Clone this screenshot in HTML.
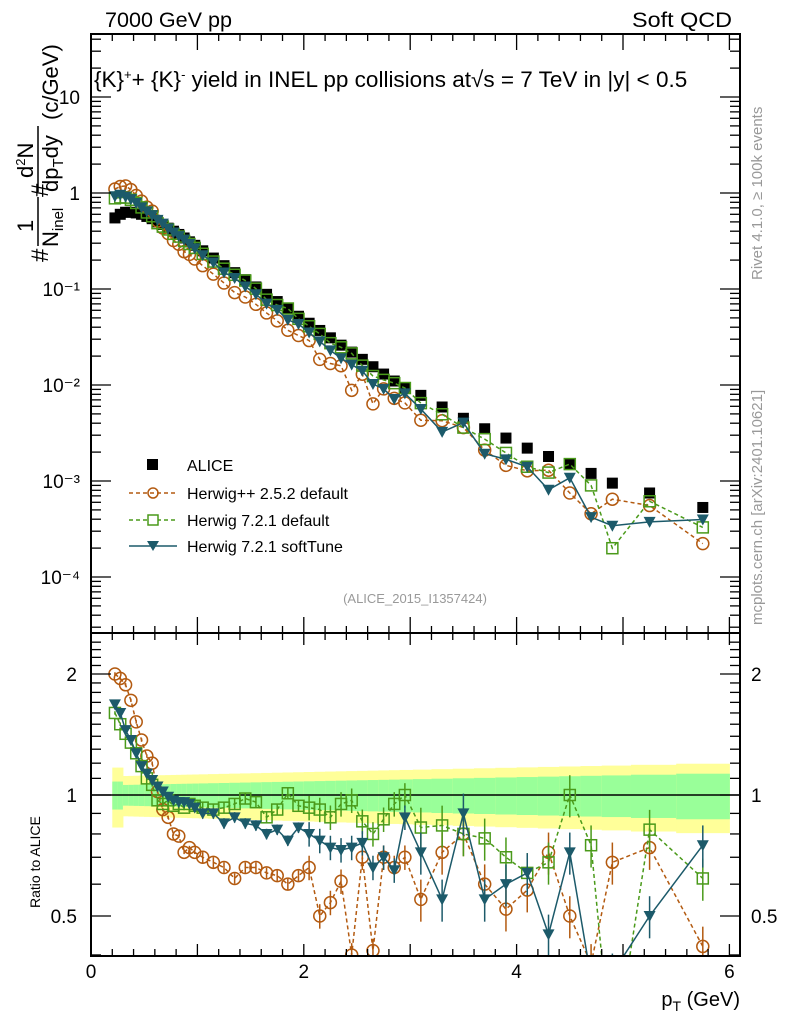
<!DOCTYPE html>
<html><head><meta charset="utf-8"><style>
html,body{margin:0;padding:0;background:#fff;width:786px;height:1024px;overflow:hidden;}
svg{display:block;font-family:"Liberation Sans","DejaVu Sans",sans-serif;}
</style></head><body>
<svg id="c" width="786" height="1024" viewBox="0 0 786 1024" xmlns="http://www.w3.org/2000/svg">
<defs><clipPath id="cm"><rect x="91" y="34" width="649" height="599"/></clipPath>
<clipPath id="cr"><rect x="91" y="633" width="649" height="323"/></clipPath></defs>
<g id="bands" clip-path="url(#cr)"></g>
<g id="marks"></g>
<g id="axes"></g>
<text x="105" y="27" font-size="21" textLength="127" lengthAdjust="spacingAndGlyphs">7000 GeV pp</text>
<text x="632" y="27" font-size="21" textLength="100" lengthAdjust="spacingAndGlyphs">Soft QCD</text>
<text x="94" y="87" font-size="22.5">{K}<tspan dy="-8" font-size="13">+</tspan><tspan dy="8">+ {K}</tspan><tspan dy="-8" font-size="13">-</tspan><tspan dy="8"> yield in INEL pp collisions at√s =  7 TeV in |y| &lt; 0.5</tspan></text>
<text x="415" y="603" font-size="13" fill="#999" text-anchor="middle">(ALICE_2015_I1357424)</text>
<text transform="translate(762,280) rotate(-90)" font-size="15" fill="#999">Rivet 4.1.0, ≥ 100k events</text>
<text transform="translate(762,625) rotate(-90)" font-size="15" fill="#999">mcplots.cern.ch [arXiv:2401.10621]</text>
<g font-size="24">
<text transform="translate(48,262) rotate(-90)">#</text>
<text transform="translate(33,232) rotate(-90)" font-size="22">1</text>
<line x1="38" y1="246" x2="38" y2="197" stroke="#000" stroke-width="1.5"/>
<text transform="translate(58,247) rotate(-90)" font-size="22">N<tspan font-size="15" dy="5">inel</tspan></text>
<text transform="translate(48,197) rotate(-90)">#</text>
<text transform="translate(33,178) rotate(-90)" font-size="22">d<tspan font-size="13" dy="-8">2</tspan><tspan dy="8">N</tspan></text>
<line x1="38" y1="192" x2="38" y2="126" stroke="#000" stroke-width="1.5"/>
<text transform="translate(58,192) rotate(-90)" font-size="22">dp<tspan font-size="15" dy="5">T</tspan><tspan dy="-5">dy</tspan></text>
<text transform="translate(58,120) rotate(-90)" font-size="22">(c/GeV)</text>
</g>
<text transform="translate(40,908) rotate(-90)" font-size="14">Ratio to ALICE</text>
<text x="740" y="1006" font-size="20" text-anchor="end">p<tspan font-size="14" dy="5">T</tspan><tspan dy="-5"> (GeV)</tspan></text>
<g font-size="16">
<rect x="147" y="459" width="11" height="11" fill="#000"/>
<text x="187" y="471">ALICE</text>
<line x1="129" y1="493" x2="177" y2="493" stroke="#b35a10" stroke-dasharray="4,3" stroke-width="1.5"/>
<circle cx="153" cy="493" r="5" fill="none" stroke="#b35a10" stroke-width="1.5"/>
<text x="187" y="499">Herwig++ 2.5.2 default</text>
<line x1="129" y1="520" x2="177" y2="520" stroke="#4a9a1a" stroke-dasharray="4,3" stroke-width="1.5"/>
<rect x="148" y="515" width="10" height="10" fill="#fff" stroke="#4a9a1a" stroke-width="1.5"/>
<text x="187" y="526">Herwig 7.2.1 default</text>
<line x1="129" y1="546" x2="177" y2="546" stroke="#1c5a6a" stroke-width="1.5"/>
<path d="M147,541 L159,541 L153,551 Z" fill="#1c5a6a"/>
<text x="187" y="552">Herwig 7.2.1 softTune</text>
</g>
</svg>
<script>
const pT=[0.225,0.275,0.325,0.375,0.425,0.475,0.525,0.575,0.625,0.675,0.725,0.775,0.825,0.875,0.925,0.975,
1.05,1.15,1.25,1.35,1.45,1.55,1.65,1.75,1.85,1.95,2.05,2.15,2.25,2.35,2.45,2.55,2.65,2.75,2.85,2.95,
3.1,3.3,3.5,3.7,3.9,4.1,4.3,4.5,4.7,4.9,5.25,5.75];
const alice=[0.55,0.60,0.63,0.63,0.62,0.60,0.57,0.54,0.50,0.47,0.43,0.40,0.37,0.34,0.31,0.285,
0.25,0.21,0.175,0.148,0.125,0.105,0.088,0.074,0.062,0.052,0.044,0.037,0.031,0.026,0.022,0.0185,0.0155,0.013,0.011,0.0093,
0.0078,0.0059,0.0045,0.0035,0.0028,0.0022,0.0018,0.0015,0.0012,0.00095,0.00075,0.00053];
const rHpp=[2.0,1.95,1.88,1.72,1.52,1.37,1.25,1.2,1.02,0.92,0.88,0.8,0.79,0.72,0.74,0.72,
0.7,0.68,0.66,0.62,0.66,0.66,0.64,0.63,0.6,0.63,0.66,0.5,0.54,0.61,0.4,0.7,0.41,0.7,0.66,0.7,
0.55,0.72,0.8,0.6,0.52,0.58,0.72,0.5,0.38,0.68,0.74,0.42];
const rH7=[1.6,1.5,1.42,1.35,1.27,1.18,1.1,1.06,0.97,0.95,0.97,0.94,0.95,0.93,0.95,0.94,
0.93,0.92,0.93,0.95,0.98,0.96,0.88,0.92,1.01,0.94,0.93,0.92,0.88,0.95,0.97,0.86,0.8,0.87,0.95,1.0,
0.83,0.84,0.8,0.78,0.7,0.64,0.68,1.0,0.75,0.21,0.82,0.62];
const rSoft=[1.68,1.6,1.45,1.37,1.27,1.18,1.13,1.09,1.05,1.02,0.99,0.97,0.96,0.96,0.95,0.93,
0.9,0.9,0.85,0.88,0.85,0.84,0.8,0.82,0.77,0.83,0.8,0.77,0.74,0.73,0.74,0.76,0.66,0.7,0.65,0.88,
0.72,0.55,0.9,0.55,0.6,0.64,0.45,0.72,0.35,0.36,0.5,0.75];
const yTicksMain=[10,1,0.1,0.01,0.001,0.0001];
const yTickLabels=["10","1","10⁻¹","10⁻²","10⁻³","10⁻⁴"];
const xTicks=[0,2,4,6];
const rTicks=[2,1,0.5];

const NS="http://www.w3.org/2000/svg";
const X=v=>91+106.4*v;
const YM=v=>193-96*Math.log10(v);
const YR=v=>795-121*Math.log2(v);
function mk(t,a,p){const e=document.createElementNS(NS,t);for(const k in a)e.setAttribute(k,a[k]);(p||document.getElementById('marks')).appendChild(e);return e;}

const bands=document.getElementById('bands');
for(let i=0;i<pT.length;i++){
 const lo=i==0?0.2:(pT[i-1]+pT[i])/2, hi=i==pT.length-1?6.0:(pT[i]+pT[i+1])/2;
 const t=pT[i]; const ys=t<0.32?0.17:(0.11+0.015*t); const gs=t<0.32?0.08:(0.055+0.013*t);
 const a=mk('rect',{x:X(lo),y:YR(1+ys),width:X(hi)-X(lo)+0.5,height:YR(1-ys)-YR(1+ys),fill:'#ffff99'},bands);
 
 
 const b=mk('rect',{x:X(lo),y:YR(1+gs),width:X(hi)-X(lo)+0.5,height:YR(1-gs)-YR(1+gs),fill:'#99ff99'},bands);
 
 
}
const one=mk('line',{x1:91,x2:740,y1:YR(1),y2:YR(1),stroke:'#000','stroke-width':1.5});



const series=[
 {r:rHpp,c:'#b35a10',dash:'4,3',m:'circle',name:'herwigpp'},
 {r:rH7,c:'#4a9a1a',dash:'4,3',m:'square',name:'herwig7-default'},
 {r:rSoft,c:'#1c5a6a',dash:'',m:'tri',name:'herwig7-softtune'}];
function marker(m,c,x,y,g){
 if(m=='circle')return mk('circle',{cx:x,cy:y,r:6,fill:'none',stroke:c,'stroke-width':1.5},g);
 if(m=='square')return mk('rect',{x:x-5.5,y:y-5.5,width:11,height:11,fill:'none',stroke:c,'stroke-width':1.5},g);
 return mk('path',{d:`M${x-6},${y-5}L${x+6},${y-5}L${x},${y+6}Z`,fill:c},g);
}
const gm=mk('g',{'clip-path':'url(#cm)'});


const gr=mk('g',{'clip-path':'url(#cr)'});


for(let i=0;i<pT.length;i++){
 const s=mk('rect',{x:X(pT[i])-5.5,y:YM(alice[i])-5.5,width:11,height:11,fill:'#000'},gm);
 
 
}
series.forEach(S=>{
 const pm=pT.map((t,i)=>X(t)+','+YM(alice[i]*S.r[i])).join(' ');
 const pr=pT.map((t,i)=>X(t)+','+YR(S.r[i])).join(' ');
 const l1=mk('polyline',{points:pm,fill:'none',stroke:S.c,'stroke-width':1.5,'stroke-dasharray':S.dash},gm);
 
 
 const l2=mk('polyline',{points:pr,fill:'none',stroke:S.c,'stroke-width':1.5,'stroke-dasharray':S.dash},gr);
 
 
 pT.forEach((t,i)=>{
  const e=t<1?0.01:(t<2?0.03:(t<3?0.07:0.12));
  const v=S.r[i];
  mk('line',{x1:X(t),x2:X(t),y1:YR(v*(1+e)),y2:YR(v*(1-e)),stroke:S.c,'stroke-width':1.5},gr);
  const a=marker(S.m,S.c,X(t),YM(alice[i]*v),gm);
  
  
  const b=marker(S.m,S.c,X(t),YR(v),gr);
  
  
 });
});

const ax=document.getElementById('axes');
[[34,633],[633,956]].forEach(([t,b])=>{
 const f=mk('rect',{x:91,y:t,width:649,height:b-t,fill:'none',stroke:'#000','stroke-width':2},ax);
 
 
 for(let v=0;v<=6.1;v+=0.2){
  const maj=Math.abs(v-Math.round(v))<1e-6;const L=maj?(b-t>400?16:12):7;const xx=X(v);
  mk('line',{x1:xx,x2:xx,y1:b,y2:b-L,stroke:'#000','stroke-width':1.3},ax);
  mk('line',{x1:xx,x2:xx,y1:t,y2:t+L,stroke:'#000','stroke-width':1.3},ax);
 }
});
for(let d=-5;d<=1;d++)for(let k=1;k<10;k++){
 const v=k*Math.pow(10,d);const y=YM(v);if(y<34||y>633)continue;const L=k==1?20:10;
 mk('line',{x1:91,x2:91+L,y1:y,y2:y,stroke:'#000','stroke-width':1.3},ax);
 mk('line',{x1:740,x2:740-L,y1:y,y2:y,stroke:'#000','stroke-width':1.3},ax);
}
yTicksMain.forEach((v,i)=>{const t=mk('text',{x:80,y:YM(v)+7,'font-size':19,'text-anchor':'end'},ax);t.textContent=yTickLabels[i];
 
 });
for(let v=0.4;v<=2.5;v+=0.1){const y=YR(v);if(y<633||y>956)continue;const maj=[0.5,1,2].some(q=>Math.abs(q-v)<1e-6);const L=maj?20:10;
 mk('line',{x1:91,x2:91+L,y1:y,y2:y,stroke:'#000','stroke-width':1.3},ax);
 mk('line',{x1:740,x2:740-L,y1:y,y2:y,stroke:'#000','stroke-width':1.3},ax);}
rTicks.forEach(v=>{const t=mk('text',{x:77,y:YR(v)+7,'font-size':19,'text-anchor':'end'},ax);t.textContent=String(v);
 
 
 const t2=mk('text',{x:751,y:YR(v)+7,'font-size':19},ax);t2.textContent=String(v);
 
 });
xTicks.forEach(v=>{const t=mk('text',{x:X(v),y:978,'font-size':19,'text-anchor':'middle'},ax);t.textContent=String(v);
 
 });
</script>
</body></html>
